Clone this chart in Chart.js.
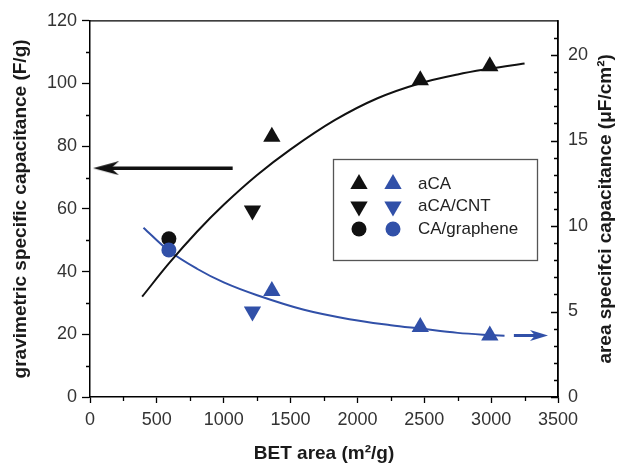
<!DOCTYPE html>
<html>
<head>
<meta charset="utf-8">
<script src="https://cdn.jsdelivr.net/npm/chart.js@4.4.1/dist/chart.umd.min.js"></script>
<style>
  html, body { margin: 0; padding: 0; background: #fff; }
  #wrap { width: 622px; height: 465px; position: relative; }
</style>
</head>
<body>
<div id="wrap"><canvas id="chart"></canvas></div>
<script>
// measured samples (BET area m2/g, gravimetric F/g, areal uF/cm2)
const aCA_bet = [1360, 2470, 2990];
const aCA_grav = [83, 101, 105.5];
const aCA_area = [6.2, 4.1, 3.6];
const aCACNT_bet = [1215];
const aCACNT_grav = [59.5];
const aCACNT_area = [5.0];
const CAg_bet = [590];
const CAg_grav = [50.5];
const CAg_area = [8.6];

// trend lines drawn through the samples
const gravFit_bet = [390, 590, 800, 1000, 1250, 1500, 1830, 2150, 2470, 2750, 2990, 3250];
const gravFit_val = [32, 42.6, 52.7, 61.3, 70.8, 79.0, 88.3, 95.3, 100.1, 102.9, 104.7, 106.4];
const areaFit_bet = [400, 590, 800, 1000, 1250, 1600, 1940, 2250, 2470, 2750, 2990, 3100];
const areaFit_val = [9.9, 8.55, 7.5, 6.7, 5.95, 5.1, 4.55, 4.2, 4.0, 3.75, 3.62, 3.58];

// arrows pointing to the axis each curve belongs to
const gravArrow_bet = [120, 1067];
const gravArrow_val = [73, 73];
const areaArrow_bet = [3170, 3358];
const areaArrow_val = [3.6, 3.6];

// ticks
const xTicks = [0, 500, 1000, 1500, 2000, 2500, 3000, 3500];
const xMinor = [250, 750, 1250, 1750, 2250, 2750, 3250];
const yTicks = [0, 20, 40, 60, 80, 100, 120];
const yMinor = [10, 30, 50, 70, 90, 110];
const y2Ticks = [0, 5, 10, 15, 20];
const y2Minor = [1, 2, 3, 4, 6, 7, 8, 9, 11, 12, 13, 14, 16, 17, 18, 19, 21];

const legendLabels = ['aCA', 'aCA/CNT', 'CA/graphene'];
const rightTitle = 'area specifci capacitance (μF/cm²)';

const BLACK = '#111111';
const BLUE = '#3150a8';
const FONT = '"Liberation Sans", Arial, sans-serif';

const pts = (xs, ys) => xs.map((x, i) => ({ x: x, y: ys[i] }));

function arrowHead(w, h, notch, color, left) {
    const c = document.createElement('canvas');
    c.width = w; c.height = h;
    const g = c.getContext('2d');
    g.fillStyle = color;
    g.beginPath();
    if (left) {
        g.moveTo(0, h / 2); g.lineTo(w, 0); g.lineTo(w - notch, h / 2); g.lineTo(w, h);
    } else {
        g.moveTo(w, h / 2); g.lineTo(0, 0); g.lineTo(notch, h / 2); g.lineTo(0, h);
    }
    g.closePath();
    g.fill();
    return c;
}
const blackHead = arrowHead(26, 14, 8, BLACK, true);
const blueHead = arrowHead(18, 11, 5, BLUE, false);

function tickSetter(list) {
    return function(scale) { scale.ticks = list.map(v => ({ value: v })); };
}

// minor ticks, inward right-axis ticks, top/right frame and right title
const axisTicks = {
    id: 'axisTicks',
    afterDraw(chart) {
        const { ctx, chartArea: a, scales } = chart;
        ctx.save();
        ctx.strokeStyle = '#000';
        ctx.lineWidth = 1.3;
        ctx.beginPath();
        ctx.moveTo(a.left, a.top); ctx.lineTo(a.right, a.top); ctx.lineTo(a.right, a.bottom);
        xMinor.forEach(v => {
            const p = Math.round(scales.x.getPixelForValue(v)) + 0.5;
            ctx.moveTo(p, a.bottom); ctx.lineTo(p, a.bottom + 4);
        });
        yMinor.forEach(v => {
            const p = Math.round(scales.y.getPixelForValue(v)) + 0.5;
            ctx.moveTo(a.left - 4, p); ctx.lineTo(a.left, p);
        });
        y2Ticks.forEach(v => {
            const p = Math.round(scales.y2.getPixelForValue(v)) + 0.5;
            ctx.moveTo(a.right - 7, p); ctx.lineTo(a.right, p);
        });
        y2Minor.forEach(v => {
            const p = Math.round(scales.y2.getPixelForValue(v)) + 0.5;
            ctx.moveTo(a.right - 4, p); ctx.lineTo(a.right, p);
        });
        ctx.stroke();

        // right axis title reads bottom-to-top like the left one
        ctx.translate(606, (a.top + a.bottom) / 2);
        ctx.rotate(-Math.PI / 2);
        ctx.font = 'bold 19px ' + FONT;
        ctx.fillStyle = '#1a1a1a';
        ctx.textAlign = 'center';
        ctx.textBaseline = 'middle';
        ctx.fillText(rightTitle, 0, 0);
        ctx.restore();
    }
};

// legend with a black and a blue marker per row
const legendBox = {
    id: 'legendBox',
    afterDatasetsDraw(chart) {
        const ctx = chart.ctx;
        const rows = [
            { style: 'triangle', rot: 0, r: 10 },
            { style: 'triangle', rot: 180, r: 10 },
            { style: 'circle', rot: 0, r: 7.5 }
        ];
        ctx.save();
        ctx.fillStyle = '#fff';
        ctx.fillRect(333.5, 159.5, 204, 101);
        ctx.strokeStyle = '#555';
        ctx.lineWidth = 1.3;
        ctx.strokeRect(333.5, 159.5, 204, 101);
        ctx.font = '17px ' + FONT;
        ctx.textBaseline = 'middle';
        rows.forEach((row, i) => {
            const y = 184 + i * 22.5;
            const opts = { pointStyle: row.style, rotation: row.rot, radius: row.r, borderWidth: 0 };
            ctx.fillStyle = BLACK;
            Chart.helpers.drawPoint(ctx, opts, 359, y);
            ctx.fillStyle = BLUE;
            Chart.helpers.drawPoint(ctx, opts, 393, y);
            ctx.fillStyle = '#222';
            ctx.fillText(legendLabels[i], 418, y);
        });
        ctx.restore();
    }
};

Chart.defaults.font.family = FONT;

const ctx = document.getElementById('chart').getContext('2d');
const chart = new Chart(ctx, {
    type: 'scatter',
    data: {
        datasets: [
            {
                data: pts(gravFit_bet, gravFit_val), yAxisID: 'y', showLine: true,
                borderColor: BLACK, borderWidth: 2, pointRadius: 0, tension: 0.35, order: 5
            },
            {
                data: pts(areaFit_bet, areaFit_val), yAxisID: 'y2', showLine: true,
                borderColor: BLUE, borderWidth: 2, pointRadius: 0, tension: 0.35, order: 5
            },
            {
                data: pts(gravArrow_bet, gravArrow_val), yAxisID: 'y', showLine: true,
                borderColor: BLACK, borderWidth: 3.5, backgroundColor: BLACK,
                pointStyle: [blackHead, 'circle'], pointRadius: [8, 0], order: 4
            },
            {
                data: pts(areaArrow_bet, areaArrow_val), yAxisID: 'y2', showLine: true,
                borderColor: BLUE, borderWidth: 3, backgroundColor: BLUE,
                pointStyle: ['circle', blueHead], pointRadius: [0, 8], order: 4
            },
            {
                label: 'aCA', data: pts(aCA_bet, aCA_grav), yAxisID: 'y',
                pointStyle: 'triangle', pointRadius: 10, backgroundColor: BLACK, borderWidth: 0, order: 1
            },
            {
                label: 'aCA/CNT', data: pts(aCACNT_bet, aCACNT_grav), yAxisID: 'y',
                pointStyle: 'triangle', pointRotation: 180, pointRadius: 10, backgroundColor: BLACK, borderWidth: 0, order: 1
            },
            {
                label: 'CA/graphene', data: pts(CAg_bet, CAg_grav), yAxisID: 'y',
                pointStyle: 'circle', pointRadius: 7.5, backgroundColor: BLACK, borderWidth: 0, order: 2
            },
            {
                label: 'aCA', data: pts(aCA_bet, aCA_area), yAxisID: 'y2',
                pointStyle: 'triangle', pointRadius: 10, backgroundColor: BLUE, borderWidth: 0, order: 1
            },
            {
                label: 'aCA/CNT', data: pts(aCACNT_bet, aCACNT_area), yAxisID: 'y2',
                pointStyle: 'triangle', pointRotation: 180, pointRadius: 10, backgroundColor: BLUE, borderWidth: 0, order: 1
            },
            {
                label: 'CA/graphene', data: pts(CAg_bet, CAg_area), yAxisID: 'y2',
                pointStyle: 'circle', pointRadius: 7.5, backgroundColor: BLUE, borderWidth: 0, order: 1
            }
        ]
    },
    options: {
        responsive: true,
        maintainAspectRatio: false,
        animation: false,
        layout: { padding: { top: 20, left: 0, right: 0, bottom: 0 } },
        plugins: {
            legend: { display: false },
            tooltip: { enabled: false }
        },
        scales: {
            x: {
                type: 'linear', min: 0, max: 3500,
                afterBuildTicks: tickSetter(xTicks),
                afterFit: s => { s.height = 68; },
                ticks: { font: { size: 18 }, color: '#333', padding: 6, maxRotation: 0, callback: v => String(v) },
                grid: { drawOnChartArea: false, tickLength: 6, color: '#000', tickWidth: 1.3 },
                border: { color: '#000', width: 1.5 },
                title: {
                    display: true, text: 'BET area (m²/g)', color: '#1a1a1a',
                    font: { size: 19, weight: 'bold' }, padding: { top: 0, bottom: 0 }
                }
            },
            y: {
                type: 'linear', position: 'left', min: 0, max: 120,
                afterBuildTicks: tickSetter(yTicks),
                afterFit: s => { s.width = 90; },
                ticks: { font: { size: 18 }, color: '#333', padding: 5, callback: v => String(v) },
                grid: { drawOnChartArea: false, tickLength: 8, color: '#000', tickWidth: 1.3 },
                border: { color: '#000', width: 1.5 },
                title: {
                    display: true, text: 'gravimetric specific capacitance (F/g)', color: '#1a1a1a',
                    font: { size: 19, weight: 'bold' }, padding: { top: 9, bottom: 0 }
                }
            },
            y2: {
                type: 'linear', position: 'right', min: 0, max: 22,
                afterBuildTicks: tickSetter(y2Ticks),
                afterFit: s => { s.width = 64; },
                ticks: { font: { size: 18 }, color: '#333', padding: 10, callback: v => String(v) },
                grid: { drawOnChartArea: false, drawTicks: false },
                border: { color: '#000', width: 1.5 },
                title: { display: false }
            }
        }
    },
    plugins: [axisTicks, legendBox]
});
</script>
</body>
</html>
